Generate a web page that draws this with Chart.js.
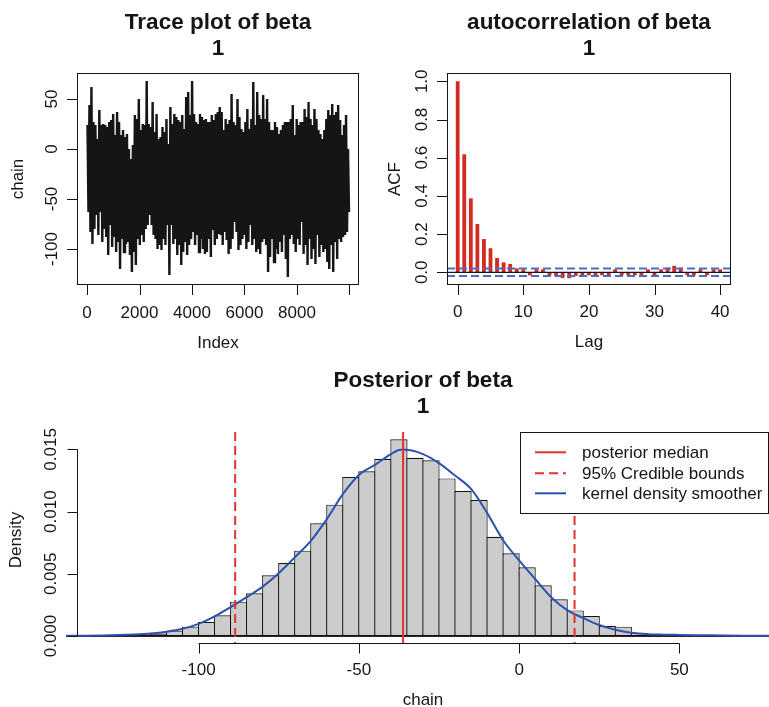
<!DOCTYPE html>
<html>
<head>
<meta charset="utf-8">
<script src="https://cdn.jsdelivr.net/npm/chart.js@4.4.1/dist/chart.umd.min.js"></script>
<style>
  html, body { margin: 0; padding: 0; background: #ffffff; }
  #page { position: relative; width: 769px; height: 707px; overflow: hidden; background: #ffffff; }
  #page canvas { position: absolute; }
</style>
</head>
<body>
<div id="page">
  <canvas id="trace" width="384" height="360" style="left:0px;top:0px"></canvas>
  <canvas id="acf" width="385" height="360" style="left:384px;top:0px"></canvas>
  <canvas id="post" width="769" height="347" style="left:0px;top:360px"></canvas>
</div>
<script>
// ---------- MCMC chain for beta: upper / lower extent of each block of iterations ----------
const nIter = 10000;
const traceHigh = [
  24, 44, 62, 27, 24, 10, 39, 24, 25, 24, 22, 27, 29, 35, 14, 37, 27, 14, 19, 12, 15, 0, -10, 4, 34, 30, 50, 19, 25, 24, 68,
  25, 22, 47, 17, 35, 10, 12, 22, 17, 30, 5, 42, 25, 35, 32, 29, 27, 34, 20, 52, 57, 34, 68, 35, 27, 25, 35, 32, 29, 30, 27, 27, 34, 29, 35, 37,
  42, 37, 19, 30, 25, 29, 55, 27, 24, 50, 32, 20, 17, 27, 40, 20, 30, 67, 24, 57, 34, 30, 54, 30, 50, 27, 19, 19, 27, 22, 15, 19, 24, 27, 27,
  27, 30, 44, 14, 30, 24, 27, 27, 40, 32, 47, 30, 24, 40, 30, 19, 15, 10, 19, 30, 39, 34, 45, 34, 37, 44, 29, 14, 24, 34, 0
];
const traceLow = [
  -63, -83, -95, -80, -66, -86, -63, -93, -80, -88, -106, -76, -98, -88, -103, -93, -120, -90, -103, -95, -93, -106, -123, -103, -116, -90, -96, -86, -93, -80, -76,
  -66, -76, -86, -90, -100, -96, -101, -90, -96, -76, -126, -76, -95, -90, -106, -96, -116, -103, -93, -106, -96, -90, -83, -96, -86, -103, -90, -100, -105, -103, -90, -108, -81, -96, -90, -85,
  -86, -96, -83, -91, -105, -100, -90, -73, -83, -101, -96, -90, -86, -100, -93, -76, -96, -90, -103, -100, -105, -93, -90, -96, -123, -108, -90, -113, -100, -105, -93, -103, -86, -110, -128,
  -90, -86, -95, -103, -90, -96, -73, -105, -96, -116, -90, -110, -100, -115, -86, -108, -96, -103, -100, -113, -120, -96, -123, -93, -110, -90, -93, -88, -86, -83, -63
];
const traceXTicks = [0, 2000, 4000, 6000, 8000, 10000];
const traceXLabels = ['0', '2000', '4000', '6000', '8000', ''];
const traceYTicks = [-100, -50, 0, 50];
const traceYLabels = ['-100', '-50', '0', '50'];

// ---------- autocorrelation ----------
const acfLags = [0, 1, 2, 3, 4, 5, 6, 7, 8, 9, 10, 11, 12, 13, 14, 15, 16, 17, 18, 19, 20,
                 21, 22, 23, 24, 25, 26, 27, 28, 29, 30, 31, 32, 33, 34, 35, 36, 37, 38, 39, 40];
const acfValues = [1.000, 0.618, 0.387, 0.253, 0.174, 0.126, 0.075, 0.052, 0.044, 0.021, 0.010,
                   -0.005, 0.003, 0.004, -0.013, -0.022, -0.030, -0.031, -0.019, -0.016, -0.016,
                   -0.017, -0.011, -0.008, 0.004, -0.005, -0.008, -0.012, -0.006, 0.003, -0.004,
                   0.012, 0.024, 0.034, 0.024, -0.008, -0.008, 0.006, -0.004, 0.008, 0.007];
const acfBound = 0.0196;
const acfXTicks = [0, 10, 20, 30, 40];
const acfXLabels = ['0', '10', '20', '30', '40'];
const acfYTicks = [0, 0.2, 0.4, 0.6, 0.8, 1.0];
const acfYLabels = ['0.0', '0.2', '0.4', '0.6', '0.8', '1.0'];

// ---------- posterior histogram + kernel density ----------
const binWidth = 5;
const histBreaks = [-145, -140, -135, -130, -125, -120, -115, -110, -105, -100,
                    -95, -90, -85, -80, -75, -70, -65, -60, -55, -50,
                    -45, -40, -35, -30, -25, -20, -15, -10, -5, 0,
                    5, 10, 15, 20, 25, 30, 35, 40, 45, 50,
                    55, 60, 65, 70, 75];
const histDensity = [0.00001, 0.00002, 0.00003, 0.00005, 0.00008, 0.00013, 0.00021, 0.00043, 0.00075, 0.00113,
                     0.00166, 0.00276, 0.00343, 0.00488, 0.00587, 0.00686, 0.00906, 0.01056, 0.01278, 0.01324,
                     0.01425, 0.01581, 0.01433, 0.01412, 0.01267, 0.01166, 0.01093, 0.00798, 0.00665, 0.00552,
                     0.00407, 0.00295, 0.00206, 0.00161, 0.00083, 0.00075, 0.00027, 0.00016, 0.00010, 0.00006,
                     0.00004, 0.00003, 0.00002, 0.00001, 0.00001];
const kdeX = [-142, -135, -130, -125, -120, -115, -110, -105, -100, -95, -90, -85, -80, -75, -70, -65, -60, -55, -50, -45,
              -40, -37, -35, -30, -25, -20, -15, -10, -5, 0, 5, 10, 15, 20, 25, 30, 35, 40, 45, 50, 60, 70, 78];
const kdeY = [0.00002, 0.00003, 0.00005, 0.00008, 0.00013, 0.00021, 0.00035, 0.00058, 0.00098, 0.00158,
              0.00232, 0.00312, 0.00397, 0.00505, 0.00632, 0.00765, 0.00940, 0.01140, 0.01295, 0.01375,
              0.01462, 0.01498, 0.01497, 0.01462, 0.01390, 0.01290, 0.01182, 0.00990, 0.00770, 0.00608,
              0.00458, 0.00312, 0.00208, 0.00145, 0.00088, 0.00050, 0.00026, 0.00015, 0.00011, 0.00009,
              0.00006, 0.00003, 0.00002];
const posteriorMedian = -36.2;
const credibleBounds = [-88.6, 17.3];
const postXTicks = [-100, -50, 0, 50];
const postXLabels = ['-100', '-50', '0', '50'];
const postYTicks = [0, 0.005, 0.010, 0.015];
const postYLabels = ['0.000', '0.005', '0.010', '0.015'];
const legendLabels = ['posterior median', '95% Credible bounds', 'kernel density smoother'];

// ---------- styles ----------
const FAMILY = '"Liberation Sans", Arial, Helvetica, sans-serif';
const AXIS_FONT = '17px ' + FAMILY;
const TITLE_FONT = 'bold 22.5px ' + FAMILY;
const INK = '#151515';
const RED = '#e2332a';
const ACF_RED = '#d22b1f';
const BLUE = '#3050b0';
const BAND_BLUE = '#4d6cc8';

Chart.defaults.font.family = FAMILY;

// Draws base-graphics style frames: box, outward ticks, rotated y labels, titles, reference lines, legend.
const rFrame = {
  id: 'rFrame',
  afterDatasetDraw(chart, args, o) {
    if (!o.barBaseline || args.meta.type !== 'bar') return;
    const ctx = chart.ctx, xs = chart.scales.x, ys = chart.scales.y, a = chart.chartArea;
    const y = Math.round(ys.getPixelForValue(0)) + 0.5;
    ctx.save();
    ctx.beginPath(); ctx.rect(a.left, a.top, a.right - a.left, a.bottom - a.top); ctx.clip();
    ctx.strokeStyle = o.barBaseline.color; ctx.lineWidth = 1;
    ctx.beginPath();
    ctx.moveTo(xs.getPixelForValue(o.barBaseline.from), y);
    ctx.lineTo(xs.getPixelForValue(o.barBaseline.to), y);
    ctx.stroke();
    ctx.restore();
  },
  afterDatasetsDraw(chart, args, o) {
    const ctx = chart.ctx, xs = chart.scales.x, ys = chart.scales.y, a = chart.chartArea;
    ctx.save();
    ctx.beginPath(); ctx.rect(a.left, a.top, a.right - a.left, a.bottom - a.top); ctx.clip();
    (o.hLines || []).forEach(l => {
      const y = ys.getPixelForValue(l.value);
      ctx.strokeStyle = l.color; ctx.lineWidth = l.width; ctx.setLineDash(l.dash || []);
      ctx.beginPath(); ctx.moveTo(a.left, y); ctx.lineTo(a.right, y); ctx.stroke();
    });
    (o.vLines || []).forEach(l => {
      const x = xs.getPixelForValue(l.value);
      ctx.strokeStyle = l.color; ctx.lineWidth = l.width; ctx.setLineDash(l.dash || []);
      ctx.beginPath(); ctx.moveTo(x, a.top); ctx.lineTo(x, a.bottom); ctx.stroke();
    });
    ctx.restore();
  },
  afterDraw(chart, args, o) {
    const ctx = chart.ctx, xs = chart.scales.x, ys = chart.scales.y, a = chart.chartArea;
    ctx.save();
    ctx.strokeStyle = INK; ctx.fillStyle = INK; ctx.lineWidth = 1; ctx.setLineDash([]);

    if (o.box) {
      ctx.strokeRect(Math.round(a.left) + 0.5, Math.round(a.top) + 0.5,
                     Math.round(a.right - a.left) - 1, Math.round(a.bottom - a.top) - 1);
    }

    // x axis
    const xa = o.xAxis;
    const yLine = xa.lineY;
    if (xa.spanLine) {
      ctx.beginPath();
      ctx.moveTo(xs.getPixelForValue(xa.ticks[0]), yLine);
      ctx.lineTo(xs.getPixelForValue(xa.ticks[xa.ticks.length - 1]), yLine);
      ctx.stroke();
    }
    ctx.font = AXIS_FONT; ctx.textAlign = 'center'; ctx.textBaseline = 'alphabetic';
    xa.ticks.forEach((t, i) => {
      const x = Math.round(xs.getPixelForValue(t)) + 0.5;
      ctx.beginPath(); ctx.moveTo(x, yLine); ctx.lineTo(x, yLine + xa.tickLen); ctx.stroke();
      if (xa.labels[i]) ctx.fillText(xa.labels[i], xs.getPixelForValue(t), xa.labelY);
    });
    ctx.fillText(xa.title, xa.titleX != null ? xa.titleX : (a.left + a.right) / 2, xa.titleY);

    // y axis
    const ya = o.yAxis;
    const xLine = ya.lineX;
    if (ya.spanLine) {
      ctx.beginPath();
      ctx.moveTo(xLine, ys.getPixelForValue(ya.ticks[0]));
      ctx.lineTo(xLine, ys.getPixelForValue(ya.ticks[ya.ticks.length - 1]));
      ctx.stroke();
    }
    ya.ticks.forEach((t, i) => {
      const y = Math.round(ys.getPixelForValue(t)) + 0.5;
      ctx.beginPath(); ctx.moveTo(xLine, y); ctx.lineTo(xLine - ya.tickLen, y); ctx.stroke();
      ctx.save();
      ctx.translate(ya.labelX, ys.getPixelForValue(t));
      ctx.rotate(-Math.PI / 2);
      ctx.fillText(ya.labels[i], 0, 0);
      ctx.restore();
    });
    ctx.save();
    ctx.translate(ya.titleX, ya.titleY != null ? ya.titleY : (a.top + a.bottom) / 2);
    ctx.rotate(-Math.PI / 2);
    ctx.fillText(ya.title, 0, 0);
    ctx.restore();

    // main title
    ctx.font = TITLE_FONT;
    const tx = o.titleX != null ? o.titleX : (a.left + a.right) / 2;
    o.title.forEach((line, i) => ctx.fillText(line, tx, o.titleY[i]));

    // legend
    const lg = o.legend;
    if (lg) {
      ctx.fillStyle = '#ffffff';
      ctx.fillRect(lg.box[0], lg.box[1], lg.box[2] - lg.box[0], lg.box[3] - lg.box[1]);
      ctx.strokeStyle = INK; ctx.lineWidth = 1;
      ctx.strokeRect(lg.box[0] + 0.5, lg.box[1] + 0.5, lg.box[2] - lg.box[0] - 1, lg.box[3] - lg.box[1] - 1);
      ctx.font = AXIS_FONT; ctx.textAlign = 'left';
      lg.items.forEach((it, i) => {
        const y = lg.rowY[i];
        ctx.strokeStyle = it.color; ctx.lineWidth = it.width; ctx.setLineDash(it.dash || []);
        ctx.beginPath(); ctx.moveTo(lg.lineX[0], y); ctx.lineTo(lg.lineX[1], y); ctx.stroke();
        ctx.setLineDash([]);
        ctx.fillStyle = INK;
        ctx.fillText(it.label, lg.textX, y + lg.baseShift);
      });
    }
    ctx.restore();
  }
};

const common = {
  responsive: false,
  animation: false,
  events: [],
  plugins: { legend: { display: false }, title: { display: false }, tooltip: { enabled: false } }
};

// ---------- trace plot ----------
const tracePoints = [];
const block = nIter / traceHigh.length;
traceHigh.forEach((v, i) => {
  tracePoints.push({ x: (i + 0.25) * block, y: v });
  tracePoints.push({ x: (i + 0.75) * block, y: traceLow[i] });
});

new Chart(document.getElementById('trace'), {
  type: 'line',
  data: { datasets: [{ data: tracePoints, borderColor: INK, borderWidth: 2.4, pointRadius: 0, tension: 0, borderJoinStyle: 'miter' }] },
  options: Object.assign({}, common, {
    layout: { padding: { left: 77, top: 73, right: 25, bottom: 75 } },
    scales: {
      x: { type: 'linear', display: false, min: -381, max: 10362 },
      y: { type: 'linear', display: false, min: -136, max: 76 }
    },
    plugins: Object.assign({}, common.plugins, {
      rFrame: {
        box: true,
        title: ['Trace plot of beta', '1'], titleY: [29.3, 55],
        xAxis: { ticks: traceXTicks, labels: traceXLabels, lineY: 285, tickLen: 10, labelY: 318, title: 'Index', titleY: 348 },
        yAxis: { ticks: traceYTicks, labels: traceYLabels, lineX: 77, tickLen: 10, labelX: 56.7, title: 'chain', titleX: 23.3 }
      }
    })
  }),
  plugins: [rFrame]
});

// ---------- autocorrelation plot ----------
new Chart(document.getElementById('acf'), {
  type: 'bar',
  data: {
    datasets: [{
      data: acfLags.map((l, i) => ({ x: l, y: acfValues[i] })),
      backgroundColor: ACF_RED, borderWidth: 0, barThickness: 3.8, minBarLength: 3, inflateAmount: 0
    }]
  },
  options: Object.assign({}, common, {
    layout: { padding: { left: 63, top: 73, right: 38, bottom: 75 } },
    scales: {
      x: { type: 'linear', display: false, min: -1.63, max: 41.66, offset: false },
      y: { type: 'linear', display: false, min: -0.0665, max: 1.0435 }
    },
    plugins: Object.assign({}, common.plugins, {
      rFrame: {
        box: true,
        title: ['autocorrelation of beta', '1'], titleY: [29, 55],
        hLines: [
          { value: 0, color: INK, width: 1.3 },
          { value: acfBound, color: BAND_BLUE, width: 2, dash: [8, 4] },
          { value: -acfBound, color: BAND_BLUE, width: 2, dash: [8, 4] }
        ],
        xAxis: { ticks: acfXTicks, labels: acfXLabels, lineY: 285, tickLen: 10, labelY: 317, title: 'Lag', titleY: 347 },
        yAxis: { ticks: acfYTicks, labels: acfYLabels, lineX: 63, tickLen: 10, labelX: 42.7, title: 'ACF', titleX: 16 }
      }
    })
  }),
  plugins: [rFrame]
});

// ---------- posterior density ----------
new Chart(document.getElementById('post'), {
  type: 'bar',
  data: {
    datasets: [
      {
        type: 'line', order: 0,
        data: kdeX.map((x, i) => ({ x: x, y: kdeY[i] })),
        borderColor: BLUE, borderWidth: 2, pointRadius: 0,
        cubicInterpolationMode: 'monotone', tension: 0.4
      },
      {
        type: 'bar', order: 1,
        data: histBreaks.map((b, i) => ({ x: b + binWidth / 2, y: histDensity[i] })),
        backgroundColor: '#cccccc', borderColor: '#141414', borderWidth: 1.2, borderSkipped: false,
        barPercentage: 1.075, categoryPercentage: 1, inflateAmount: 0
      }
    ]
  },
  options: Object.assign({}, common, {
    layout: { padding: { left: 66, top: 72, right: 0, bottom: 63 } },
    scales: {
      x: { type: 'linear', display: false, min: -141.38, max: 77.97, offset: false },
      y: { type: 'linear', display: false, min: -0.000643, max: 0.0164 }
    },
    plugins: Object.assign({}, common.plugins, {
      rFrame: {
        box: false,
        barBaseline: { from: histBreaks[0], to: histBreaks[histBreaks.length - 1] + binWidth, color: '#262626' },
        title: ['Posterior of beta', '1'], titleY: [26.7, 53.3], titleX: 423,
        vLines: [
          { value: posteriorMedian, color: RED, width: 2 },
          { value: credibleBounds[0], color: RED, width: 2, dash: [9, 5] },
          { value: credibleBounds[1], color: RED, width: 2, dash: [9, 5] }
        ],
        xAxis: { ticks: postXTicks, labels: postXLabels, spanLine: true, lineY: 283.5, tickLen: 10, labelY: 315, title: 'chain', titleX: 423, titleY: 345 },
        yAxis: { ticks: postYTicks, labels: postYLabels, spanLine: true, lineX: 77.5, tickLen: 10, labelX: 56, title: 'Density', titleX: 20.7, titleY: 180 },
        legend: {
          box: [520, 72, 769, 154],
          lineX: [535, 566], textX: 582, rowY: [92.3, 113.3, 133.3], baseShift: 5.5,
          items: [
            { label: legendLabels[0], color: RED, width: 2 },
            { label: legendLabels[1], color: RED, width: 2, dash: [9, 5] },
            { label: legendLabels[2], color: BLUE, width: 2 }
          ]
        }
      }
    })
  }),
  plugins: [rFrame]
});
</script>
</body>
</html>
